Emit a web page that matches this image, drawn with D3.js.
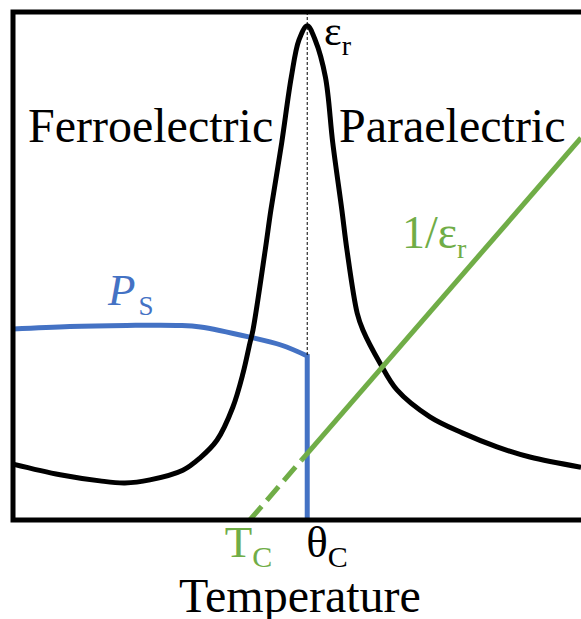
<!DOCTYPE html>
<html>
<head>
<meta charset="utf-8">
<script src="https://cdn.jsdelivr.net/npm/d3@7"></script>
<style>
  html, body { margin: 0; padding: 0; background: #fff; }
  svg { display: block; }
  text { font-family: "Liberation Serif", "Times New Roman", serif; }
</style>
</head>
<body>
<svg id="chart" width="581" height="619"></svg>
<script>
// Transition temperatures (temperature axis, arbitrary units 0–100)
const curieTemp = 41.7;   // T_C, where 1/εr extrapolates to zero
const curiePoint = 51.8;  // θ_C, the permittivity peak

// Relative permittivity εr against temperature
const permittivity = [
  [0, 11.0], [8.3, 8.9], [15.3, 7.7], [19.7, 7.3], [24.1, 7.9],
  [29.9, 9.8], [32.9, 12.2], [35.9, 15.7], [38.7, 22.2], [40.5, 28.9],
  [41.7, 34.8], [42.25, 37.4], [44.4, 53.1], [45.4, 61.0], [47.3, 74.2],
  [49.0, 87.2], [50.35, 94.5], [51.8, 97.3], [53.2, 94.5], [55.0, 87.2],
  [56.3, 74.2], [57.9, 61.0], [58.8, 53.1], [60.6, 40.7], [61.6, 37.4],
  [64.6, 30.9], [67.6, 25.6], [73.4, 20.3], [79.2, 17.1], [85.2, 14.4],
  [91.0, 12.4], [100, 10.4]
];

// Spontaneous polarisation P_S, vanishing at θ_C
const polarisation = [
  [0, 37.6], [10, 38.1], [20, 38.3], [29.4, 38.3], [33, 38.0],
  [41.7, 36.0], [47.3, 34.4], [51.8, 32.3]
];
const polarisationDrop = [[51.8, 32.3], [51.8, 0]];

// Inverse permittivity 1/εr: extrapolated part and measured part
const inverseExtrapolated = [[curieTemp, 0], [50.8, 11.8]];
const inverseMeasured = [[50.8, 11.8], [100, 75.2]];

const blue = "#4472c4";
const green = "#70ad47";

const svg = d3.select("#chart");

const x = d3.scaleLinear().domain([0, 100]).range([13, 581]);
const y = d3.scaleLinear().domain([0, 100]).range([520, 12]);

const smooth = d3.line().x(d => x(d[0])).y(d => y(d[1])).curve(d3.curveCatmullRom.alpha(0.5));
const straight = d3.line().x(d => x(d[0])).y(d => y(d[1]));

// Spontaneous polarisation with its drop to zero at θ_C
svg.append("path")
  .attr("d", smooth(polarisation) + straight(polarisationDrop).replace(/^M/, "L"))
  .attr("fill", "none")
  .attr("stroke", blue)
  .attr("stroke-width", 5)
  .attr("stroke-linejoin", "miter");

// Permittivity peak
svg.append("path")
  .attr("d", smooth(permittivity))
  .attr("fill", "none")
  .attr("stroke", "#000")
  .attr("stroke-width", 5);

// Inverse permittivity (Curie–Weiss line)
svg.append("path")
  .attr("d", straight(inverseExtrapolated))
  .attr("fill", "none")
  .attr("stroke", green)
  .attr("stroke-width", 5)
  .attr("stroke-dasharray", "18,8");
svg.append("path")
  .attr("d", straight(inverseMeasured))
  .attr("fill", "none")
  .attr("stroke", green)
  .attr("stroke-width", 5);

// Guide at θ_C from the frame top down to the polarisation step
svg.append("line")
  .attr("x1", x(curiePoint)).attr("x2", x(curiePoint))
  .attr("y1", y(100)).attr("y2", y(polarisation[polarisation.length - 1][1]))
  .attr("stroke", "#000")
  .attr("stroke-width", 1)
  .attr("stroke-dasharray", "3,2");

// Frame (open on the right)
svg.append("path")
  .attr("d", `M${x(100) + 5},${y(100)}H${x(0)}V${y(0)}H${x(100) + 5}`)
  .attr("fill", "none")
  .attr("stroke", "#000")
  .attr("stroke-width", 5)
  .attr("stroke-linejoin", "miter");

// Region labels
svg.append("text").attr("x", 28).attr("y", 142)
  .attr("font-size", 48).attr("fill", "#000").text("Ferroelectric");
svg.append("text").attr("x", 339).attr("y", 142)
  .attr("font-size", 48).attr("fill", "#000").text("Paraelectric");

// Axis title
svg.append("text").attr("x", 300).attr("y", 612)
  .attr("text-anchor", "middle").attr("font-size", 48).attr("fill", "#000")
  .text("Temperature");

// T_C and θ_C markers under the axis
const tc = svg.append("text").attr("x", x(curieTemp) - 25).attr("y", 557)
  .attr("font-size", 45).attr("fill", green);
tc.append("tspan").text("T");
tc.append("tspan").attr("font-size", 30).attr("dy", 10).text("C");

const th = svg.append("text").attr("x", x(curiePoint) - 1).attr("y", 557)
  .attr("font-size", 45).attr("fill", "#000");
th.append("tspan").text("θ");
th.append("tspan").attr("font-size", 30).attr("dy", 10).text("C");

// Curve labels
const er = svg.append("text").attr("x", 324).attr("y", 45)
  .attr("font-size", 42).attr("fill", "#000");
er.append("tspan").text("ε");
er.append("tspan").attr("font-size", 28).attr("dy", 10).text("r");

const inv = svg.append("text").attr("x", 402).attr("y", 248)
  .attr("font-size", 46).attr("fill", green);
inv.append("tspan").text("1/ε");
inv.append("tspan").attr("font-size", 28).attr("dy", 10).text("r");

const ps = svg.append("text").attr("x", 108).attr("y", 305)
  .attr("font-size", 45).attr("fill", blue);
ps.append("tspan").attr("font-style", "italic").text("P");
ps.append("tspan").attr("font-size", 27).attr("dx", 3).attr("dy", 10).text("S");
</script>
</body>
</html>
